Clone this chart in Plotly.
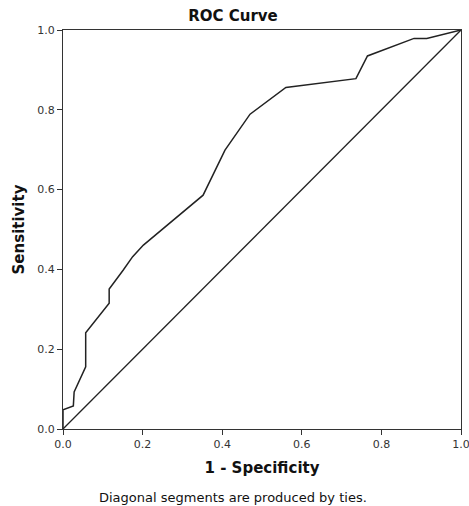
import plotly.graph_objects as go

fpr = [0.0, 0.0, 0.026, 0.028, 0.057, 0.057, 0.116, 0.116, 0.151, 0.175, 0.202, 0.352, 0.407, 0.47, 0.56, 0.736, 0.765, 0.882, 0.914, 1.0]
tpr = [0.0, 0.048, 0.058, 0.093, 0.156, 0.241, 0.315, 0.351, 0.398, 0.432, 0.461, 0.586, 0.699, 0.789, 0.856, 0.878, 0.935, 0.979, 0.979, 1.0]
ref_x = [0.0, 1.0]
ref_y = [0.0, 1.0]
tick_vals = [0.0, 0.2, 0.4, 0.6, 0.8, 1.0]
tick_text = ["0.0", "0.2", "0.4", "0.6", "0.8", "1.0"]

FONT = "DejaVu Sans"

fig = go.Figure()
fig.add_trace(go.Scatter(x=fpr, y=tpr, mode="lines", line=dict(color="#222222", width=1.5), showlegend=False))
fig.add_trace(go.Scatter(x=ref_x, y=ref_y, mode="lines", line=dict(color="#222222", width=1.3), showlegend=False))

axis_common = dict(
    range=[0, 1], tickvals=tick_vals, ticktext=tick_text, ticks="outside", ticklen=5,
    tickcolor="#333333", showline=True, linecolor="#333333", linewidth=1.2, mirror=True,
    showgrid=False, zeroline=False, tickfont=dict(family=FONT, size=11, color="#333333"),
    ticklabeloverflow="allow", automargin=False,
)

fig.update_layout(
    width=469, height=506,
    margin=dict(l=63, r=8, t=30, b=77),
    paper_bgcolor="white", plot_bgcolor="white",
    title=dict(text="<b>ROC Curve</b>", x=233 / 469, xanchor="center", y=1 - 16 / 506, yanchor="middle",
               font=dict(family=FONT, size=15, color="#111111")),
    xaxis=dict(**axis_common, title=dict(text="<b>1 - Specificity</b>", font=dict(family=FONT, size=15, color="#111111"), standoff=12)),
    yaxis=dict(**axis_common, title=dict(text="<b>Sensitivity</b>", font=dict(family=FONT, size=15, color="#111111"), standoff=8)),
    annotations=[dict(text="Diagonal segments are produced by ties.", xref="paper", yref="paper",
                      x=(233 - 63) / 398, y=-(497 - 429) / 399, xanchor="center", yanchor="middle",
                      showarrow=False, font=dict(family=FONT, size=13, color="#111111"))],
)

fig.write_html("out.html")
